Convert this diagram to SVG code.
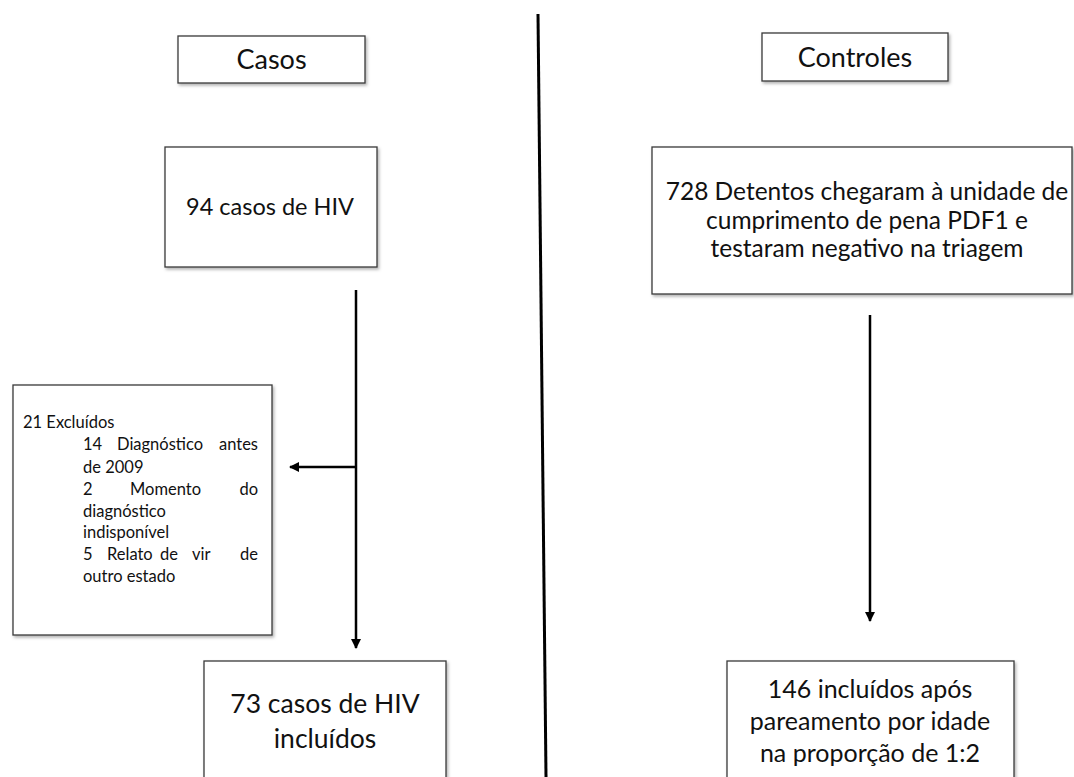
<svg xmlns="http://www.w3.org/2000/svg" width="1074" height="777" viewBox="0 0 1074 777">
<style>
.box{fill:#fff;stroke:#3a3a3a;stroke-width:1.3;filter:url(#sh)}
.t{font-family:Lato,"Noto Sans",sans-serif;fill:#111;text-anchor:middle}
.s{font-family:Lato,"Noto Sans",sans-serif;fill:#111;font-size:16.5px}
.e{text-anchor:end}
.line{stroke:#000;stroke-width:2.5;fill:none}
</style>
<defs>
<filter id="sh" x="-10%" y="-10%" width="125%" height="125%">
<feDropShadow dx="1.5" dy="2" stdDeviation="1.5" flood-color="#000" flood-opacity="0.3"/>
</filter>
<marker id="ah" viewBox="0 0 10 10" refX="9" refY="5" markerWidth="4" markerHeight="4" orient="auto" markerUnits="strokeWidth">
<path d="M0,0 L10,5 L0,10 Z" fill="#000"/>
</marker>
</defs>
<rect width="1074" height="777" fill="#fff"/>
<g id="connectors">
<line x1="538" y1="14" x2="546" y2="777" stroke="#000" stroke-width="3"/>
<line class="line" x1="356" y1="290" x2="356" y2="648" marker-end="url(#ah)"/>
<line class="line" x1="356" y1="467" x2="290" y2="467" marker-end="url(#ah)"/>
<line class="line" x1="870" y1="315" x2="870" y2="621" marker-end="url(#ah)"/>
</g>
<g id="casos">
<rect class="box" x="178" y="36" width="187" height="47"/>
<text class="t" x="271.5" y="69" font-size="27">Casos</text>
</g>
<g id="controles">
<rect class="box" x="762" y="33" width="186" height="48"/>
<text class="t" x="855" y="67" font-size="27">Controles</text>
</g>
<g id="hiv94">
<rect class="box" x="165" y="147" width="212" height="120"/>
<text class="t" x="270" y="215" font-size="23.5">94 casos de HIV</text>
</g>
<g id="detentos">
<rect class="box" x="652" y="147" width="420" height="147"/>
<text class="t" font-size="24.5"><tspan x="867" y="200">728 Detentos chegaram à unidade de</tspan><tspan x="867" y="228.5">cumprimento de pena PDF1 e</tspan><tspan x="867" y="257">testaram negativo na triagem</tspan></text>
</g>
<g id="excluidos">
<rect class="box" x="13" y="385" width="259" height="250"/>
<text class="s" x="23" y="428">21 Excluídos</text>
<text class="s" x="83" y="450">14</text>
<text class="s" x="117" y="450">Diagnóstico</text>
<text class="s e" x="258" y="450">antes</text>
<text class="s" x="83" y="473">de 2009</text>
<text class="s" x="83" y="495">2</text>
<text class="s" x="130" y="495">Momento</text>
<text class="s e" x="258" y="495">do</text>
<text class="s" x="83" y="517">diagnóstico</text>
<text class="s" x="83" y="538">indisponível</text>
<text class="s" x="83" y="560">5</text>
<text class="s" x="107" y="560">Relato</text>
<text class="s" x="160" y="560">de</text>
<text class="s" x="192" y="560">vir</text>
<text class="s e" x="258" y="560">de</text>
<text class="s" x="83" y="582">outro estado</text>
</g>
<g id="hiv73">
<rect class="box" x="204" y="661" width="242" height="130"/>
<text class="t" font-size="26.5"><tspan x="325" y="713">73 casos de HIV</tspan><tspan x="325" y="748">incluídos</tspan></text>
</g>
<g id="incluidos146">
<rect class="box" x="727" y="661" width="287" height="130"/>
<text class="t" font-size="25"><tspan x="870" y="698">146 incluídos após</tspan><tspan x="870" y="730">pareamento por idade</tspan><tspan x="870" y="762">na proporção de 1:2</tspan></text>
</g>
</svg>
